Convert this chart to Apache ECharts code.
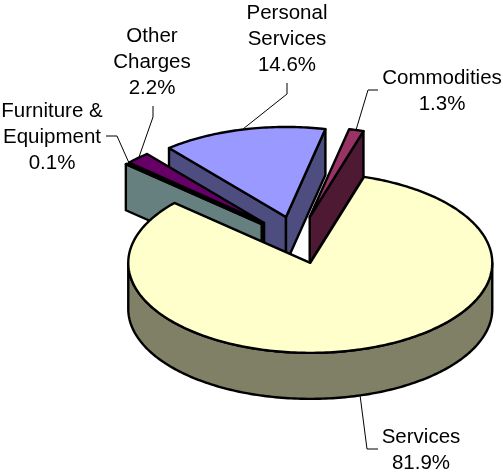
<!DOCTYPE html>
<html>
<head>
<meta charset="utf-8">
<style>
  html, body { margin: 0; background: #fff; }
  #chart { width: 503px; height: 472px; }
</style>
<script src="https://cdn.jsdelivr.net/npm/echarts@6/dist/echarts.min.js"></script>
</head>
<body>
<div id="chart"></div>
<script>
const categories = ["Personal\nServices", "Commodities", "Services", "Furniture &\nEquipment", "Other\nCharges"]
const shares = [14.6, 1.3, 81.9, 0.1, 2.2]
const topColors = ["#9999FF", "#993366", "#FFFFCC", "#CCFFFF", "#660066"]
const wallColors = ["#4D4D80", "#4D1933", "#808066", "#668080", "#330033"]
// back to front
const paintOrder = [0, 4, 3, 1, 2]

// 3d look of the pie
const pie = { cx: 297.4, cy: 240, rx: 182, ry: 90, depth: 46, explode: 48, startAngle: 320 }

// label centre x, first line y, then the leader line
const labelPlaces = [
    { x: 287, y: 13, leader: [[287, 83], [287, 94], [243, 129]] },
    { x: 442, y: 78, leader: [[378, 90], [368, 90], [356, 130]] },
    { x: 421, y: 437, leader: [[360, 395], [367, 449], [378, 449]] },
    { x: 52, y: 111, leader: [[106, 136], [117, 136], [129, 163]] },
    { x: 152, y: 36, leader: [[153, 106], [153, 117], [139, 157]] },
]

const toRad = deg => deg * Math.PI / 180
const total = shares.reduce((a, b) => a + b, 0)

// angles run clockwise from 12 o'clock
const slices = []
let angle = pie.startAngle
shares.forEach(v => {
    const sweep = v / total * 360
    slices.push({ from: angle, to: angle + sweep })
    angle += sweep
})

const ringPoint = (centre, deg, drop) => [
    centre[0] + pie.rx * Math.sin(toRad(deg)),
    centre[1] - pie.ry * Math.cos(toRad(deg)) + drop,
]

const arcPoints = (centre, from, to, drop) => {
    const steps = Math.max(2, Math.ceil(Math.abs(to - from)))
    const pts = []
    for (let i = 0; i <= steps; i++) {
        pts.push(ringPoint(centre, from + (to - from) * i / steps, drop))
    }
    return pts
}

const shape = (points, fill, z2) => ({
    type: "polygon",
    z2: z2,
    shape: { points: points },
    style: { fill: fill, stroke: "#000", lineWidth: 2.4, lineJoin: "round" },
})

const radialWall = (centre, deg, fill, z2) => {
    const a = ringPoint(centre, deg, 0)
    const b = ringPoint(centre, deg, pie.depth)
    return shape([centre, a, b, [centre[0], centre[1] + pie.depth]], fill, z2)
}

const renderSlice = (params, api) => {
    const i = params.dataIndex
    const sweep = api.value(0) / total * 360
    const from = slices[i].from
    const to = from + sweep
    const mid = toRad((from + to) / 2)
    const centre = [
        pie.cx + pie.explode * Math.sin(mid),
        pie.cy - pie.explode * (pie.ry / pie.rx) * Math.cos(mid),
    ]
    const base = paintOrder.indexOf(i) * 10
    const children = []

    // side walls, only those that face the viewer
    if (Math.sin(toRad(from)) < 0) children.push(radialWall(centre, from, wallColors[i], base))
    if (Math.sin(toRad(to)) > 0) children.push(radialWall(centre, to, wallColors[i], base))

    // outer wall, front half of the rim
    for (let k = 0; k < 2; k++) {
        const lo = Math.max(from, 90 + k * 360)
        const hi = Math.min(to, 270 + k * 360)
        if (hi > lo) {
            const upper = arcPoints(centre, lo, hi, 0)
            const lower = arcPoints(centre, hi, lo, pie.depth)
            children.push(shape(upper.concat(lower), wallColors[i], base + 1))
        }
    }

    children.push(shape([centre].concat(arcPoints(centre, from, to, 0)), topColors[i], base + 2))
    return { type: "group", children: children }
}

const labelGraphics = []
categories.forEach((name, i) => {
    const place = labelPlaces[i]
    labelGraphics.push({
        type: "polyline",
        silent: true,
        z: 10,
        shape: { points: place.leader },
        style: { stroke: "#000", lineWidth: 1, fill: null },
    })
    labelGraphics.push({
        type: "text",
        silent: true,
        z: 10,
        x: place.x,
        y: place.y - 13,
        style: {
            text: name + "\n" + shares[i].toFixed(1) + "%",
            fill: "#000",
            font: '20.5px "Liberation Sans", Arial, sans-serif',
            lineHeight: 26,
            align: "center",
            verticalAlign: "top",
        },
    })
})

const chart = echarts.init(document.getElementById("chart"))
chart.setOption({
    animation: false,
    backgroundColor: "#fff",
    graphic: labelGraphics,
    series: [
        {
            type: "custom",
            coordinateSystem: "none",
            silent: true,
            renderItem: renderSlice,
            data: shares.map(v => [v]),
        },
    ],
})
</script>
</body>
</html>
